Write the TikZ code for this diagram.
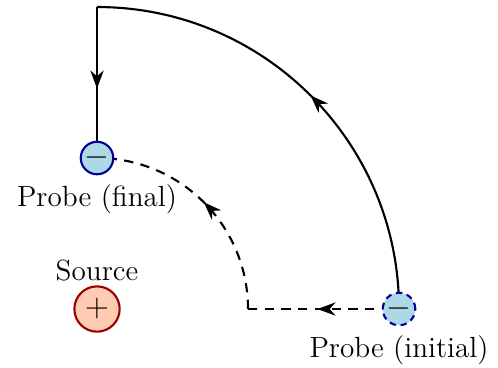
\documentclass[tikz,border=0pt]{standalone}
\usepackage{tikz}
\usetikzlibrary{arrows.meta,positioning,decorations.markings,backgrounds}
\definecolor{chargered}{RGB}{153,0,0}
\definecolor{chargefill}{RGB}{255,204,179}
\definecolor{probeblue}{RGB}{0,0,153}
\definecolor{probefill}{RGB}{173,216,230}

\begin{document}
\begin{tikzpicture}[
  font=\fontsize{11}{13.6}\selectfont,
  source/.style={circle, draw=chargered, fill=chargefill, thick, minimum size=0.6cm, inner sep=0pt, font=\large},
  probe/.style={circle, draw=probeblue, fill=probefill, thick, minimum size=0.4cm, inner sep=0pt, font=\large},
  shortway/.style={thick, dash pattern=on 3.5pt off 2.8pt},
  midarrow/.style={postaction={decorate, decoration={markings,
    mark=at position #1 with {\arrow[solid]{Stealth[length=6.8pt, width=5pt, inset=2.2pt]}}}}},
  midarrow/.default=0.5
]
  % Frame: source at the origin, 1cm = 75.5px
  \useasboundingbox (-1.285,-0.768) rectangle (5.311,4.093);

  % Charges
  \node[source] (src) at (0,0) {$+$};
  \node[probe, dash pattern=on 2.4pt off 1.8pt] (pinit) at (4,0) {$-$};
  \node[probe] (pfin) at (0,2) {$-$};
  \coordinate (bend) at (2,0);
  \coordinate (corner) at (0,4);

  % Labels
  \node[above=-2pt of src] (srclab) {Source};
  \node[below=0pt of pinit] (pinitlab) {Probe (initial)};
  \node[below=0pt of pfin] (pfinlab) {Probe (final)};

  % Paths
  \begin{scope}[on background layer]
    % short way, dashed
    \draw[shortway, dash phase=3.3pt, midarrow=0.54] (pinit.center) -- (bend);
    \draw[shortway, midarrow] (bend) arc[start angle=0, end angle=90, radius=2];
    % long way round
    \draw[thick, midarrow] (pinit.center) arc[start angle=0, end angle=90, radius=4];
    \draw[thick, midarrow=0.54] (corner) -- (pfin.center);
  \end{scope}
\end{tikzpicture}
\end{document}
